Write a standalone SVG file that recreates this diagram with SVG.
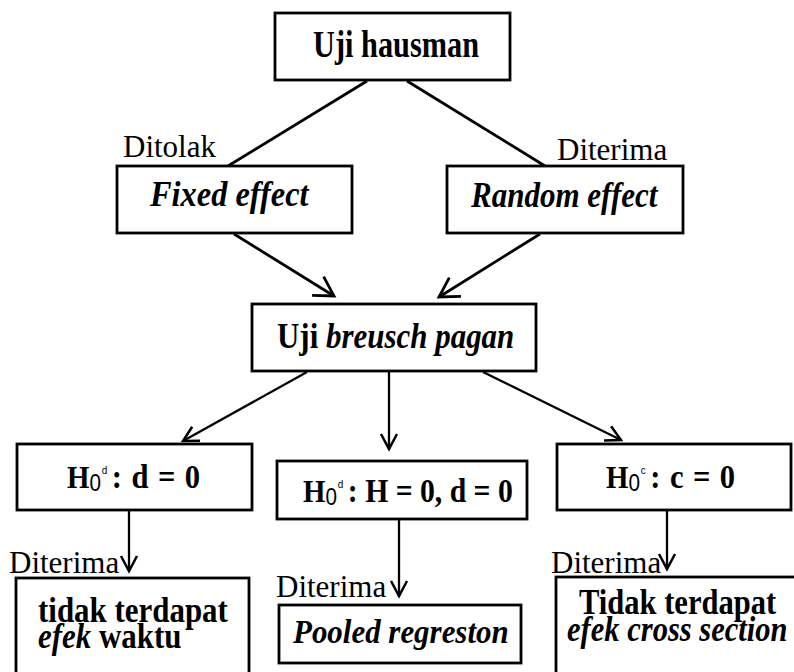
<svg xmlns="http://www.w3.org/2000/svg" width="794" height="672" viewBox="0 0 794 672">
<style>
  .box { fill: #fff; stroke: #000; stroke-width: 2.8; }
  .ln { fill: none; stroke: #000; stroke-width: 2.8; }
  .ln2 { fill: none; stroke: #000; stroke-width: 2.3; }
  text { font-family: "Liberation Serif", "Times New Roman", serif; fill: #000; }
  .b { font-weight: bold; font-style: normal; }
  .bi { font-weight: bold; font-style: italic; }
  .r { font-weight: normal; font-size: 31px; }
  .sans { font-family: "Liberation Sans", Arial, sans-serif; font-weight: normal; }
</style>
<defs>
  <marker id="arrowL" markerUnits="userSpaceOnUse" orient="auto" refX="0" refY="0" markerWidth="30" markerHeight="30" overflow="visible">
    <path d="M-19,-11 L0,0 L-19,11" fill="none" stroke="#000" stroke-width="2.8" stroke-linejoin="miter"/>
  </marker>
  <marker id="arrowS" markerUnits="userSpaceOnUse" orient="auto" refX="0" refY="0" markerWidth="30" markerHeight="30" overflow="visible">
    <path d="M-15,-8 L0,0 L-15,8" fill="none" stroke="#000" stroke-width="2.5" stroke-linejoin="miter"/>
  </marker>
</defs>
<rect width="794" height="672" fill="#fff"/>

<g id="connectors">
  <line class="ln" x1="367" y1="81" x2="228" y2="166"/>
  <line class="ln" x1="407" y1="81" x2="545" y2="166"/>
  <line class="ln" x1="234" y1="234" x2="334" y2="296" marker-end="url(#arrowL)"/>
  <line class="ln" x1="540" y1="234" x2="439" y2="297" marker-end="url(#arrowL)"/>
  <line class="ln2" x1="307" y1="372" x2="183" y2="441" marker-end="url(#arrowS)"/>
  <line class="ln2" x1="389" y1="372" x2="389" y2="449" marker-end="url(#arrowS)"/>
  <line class="ln2" x1="483" y1="372" x2="621" y2="440" marker-end="url(#arrowS)"/>
  <line class="ln2" x1="129" y1="511" x2="129" y2="571" marker-end="url(#arrowS)"/>
  <line class="ln2" x1="399" y1="520" x2="399" y2="596" marker-end="url(#arrowS)"/>
  <line class="ln2" x1="667" y1="511" x2="667" y2="569" marker-end="url(#arrowS)"/>
</g>

<g id="edge-labels">
  <text class="r" x="123" y="157">Ditolak</text>
  <text class="r" x="557" y="160">Diterima</text>
  <text class="r" x="9" y="573">Diterima</text>
  <text class="r" x="276" y="597">Diterima</text>
  <text class="r" x="551" y="573">Diterima</text>
</g>

<g id="node-hausman">
  <rect class="box" x="275" y="13" width="235" height="67"/>
  <text class="b" font-size="37" transform="translate(313,57) scale(0.82,1)">Uji hausman</text>
</g>

<g id="node-fixed">
  <rect class="box" x="117" y="166" width="235" height="67"/>
  <text class="bi" font-size="36" transform="translate(150,206) scale(0.9,1)">Fixed effect</text>
</g>

<g id="node-random">
  <rect class="box" x="447" y="166" width="236" height="67"/>
  <text class="bi" font-size="36" transform="translate(471,207) scale(0.862,1)">Random effect</text>
</g>

<g id="node-breusch">
  <rect class="box" x="252" y="304" width="284" height="67"/>
  <text class="b" font-size="36" transform="translate(277,348) scale(0.86,1)">Uji <tspan class="bi">breusch pagan</tspan></text>
</g>

<g id="node-h0d">
  <rect class="box" x="17" y="444" width="235" height="66"/>
  <text transform="translate(67,488) scale(0.9,1)"><tspan class="b" font-size="32">H</tspan><tspan class="sans" font-size="23" dy="3">0</tspan><tspan class="sans" font-size="11" dy="-17" dx="1">d</tspan><tspan class="b" font-size="34" dy="14" dx="5" word-spacing="2">: d = 0</tspan></text>
</g>

<g id="node-h0hd">
  <rect class="box" x="277" y="461" width="250" height="58"/>
  <text transform="translate(303,502) scale(0.9,1)"><tspan class="b" font-size="32">H</tspan><tspan class="sans" font-size="23" dy="3">0</tspan><tspan class="sans" font-size="11" dy="-17" dx="1">d</tspan><tspan class="b" font-size="33" dy="14" dx="5">: H = 0, d = 0</tspan></text>
</g>

<g id="node-h0c">
  <rect class="box" x="557" y="444" width="234" height="66"/>
  <text transform="translate(606,488) scale(0.9,1)"><tspan class="b" font-size="32">H</tspan><tspan class="sans" font-size="23" dy="3">0</tspan><tspan class="sans" font-size="11" dy="-17" dx="1">c</tspan><tspan class="b" font-size="34" dy="14" dx="5" word-spacing="2">: c = 0</tspan></text>
</g>

<g id="node-waktu">
  <rect class="box" x="16" y="578" width="233" height="120"/>
  <text class="b" font-size="35" transform="translate(38,622) scale(0.884,1)">tidak terdapat<tspan x="0" dy="26"><tspan class="bi">efek</tspan> waktu</tspan></text>
</g>

<g id="node-pooled">
  <rect class="box" x="279" y="605" width="242" height="58"/>
  <text class="bi" font-size="34" transform="translate(293,643) scale(0.91,1)">Pooled regreston</text>
</g>

<g id="node-cross">
  <rect class="box" x="556" y="577" width="240" height="120"/>
  <text class="b" font-size="35" transform="translate(579,614) scale(0.873,1)">Tidak terdapat<tspan class="bi" x="-13.7" dy="27">efek cross section</tspan></text>
</g>
</svg>
